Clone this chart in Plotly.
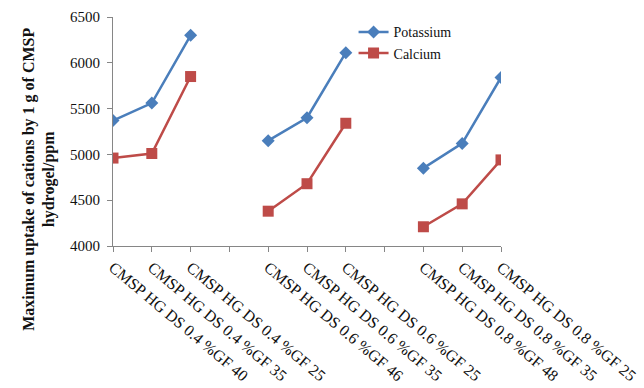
import plotly.graph_objects as go

# Hydrogel samples along the category axis; empty strings separate the DS groups
categories = [
    "CMSP HG DS 0.4 %GF 40", "CMSP HG DS 0.4 %GF 35", "CMSP HG DS 0.4 %GF 25", "",
    "CMSP HG DS 0.6 %GF 46", "CMSP HG DS 0.6 %GF 35", "CMSP HG DS 0.6 %GF 25", "",
    "CMSP HG DS 0.8 %GF 48", "CMSP HG DS 0.8 %GF 35", "CMSP HG DS 0.8 %GF 25",
]
potassium = [5370, 5560, 6300, None, 5150, 5400, 6110, None, 4850, 5120, 5840]
calcium = [4960, 5010, 5850, None, 4380, 4680, 5340, None, 4210, 4460, 4940]
y_ticks = [4000, 4500, 5000, 5500, 6000, 6500]

positions = list(range(len(categories)))
SERIF = "Liberation Serif"
AXIS_GRAY = "#868686"

fig = go.Figure()
fig.add_trace(go.Scatter(
    x=positions, y=potassium, name="Potassium", mode="lines+markers",
    line=dict(color="#4A7EBB", width=2.5),
    marker=dict(symbol="diamond", size=10, color="#4A7EBB"),
    connectgaps=False,
))
fig.add_trace(go.Scatter(
    x=positions, y=calcium, name="Calcium", mode="lines+markers",
    line=dict(color="#BE4B48", width=2.5),
    marker=dict(symbol="square", size=11, color="#BE4B48"),
    connectgaps=False,
))

fig.update_layout(
    width=644, height=388,
    margin=dict(l=113, r=143, t=17, b=142),
    plot_bgcolor="white", paper_bgcolor="white",
    font=dict(family=SERIF, color="#111111", size=13),
    legend=dict(
        x=0.62, y=1.003, xanchor="left", yanchor="top",
        bgcolor="rgba(0,0,0,0)", font=dict(family=SERIF, size=14, color="#111111"),
        tracegroupgap=0, itemwidth=30,
    ),
)
fig.update_xaxes(
    range=[0, len(categories) - 1], tickmode="array",
    tickvals=positions, ticktext=categories, tickangle=40,
    showline=True, linecolor=AXIS_GRAY, linewidth=1,
    ticks="outside", ticklen=5, tickcolor=AXIS_GRAY,
    showgrid=False, zeroline=False, automargin=False,
    tickfont=dict(family=SERIF, size=16, color="#111111"),
)
fig.update_yaxes(
    range=[4000, 6500], tickmode="array", tickvals=y_ticks,
    showline=True, linecolor=AXIS_GRAY, linewidth=1,
    ticks="outside", ticklen=5, tickcolor=AXIS_GRAY,
    showgrid=False, zeroline=False, ticklabelstandoff=4, automargin=False,
    tickfont=dict(family=SERIF, size=15, color="#111111"),
)

fig.add_annotation(
    text="<b>Maximum uptake of cations by 1 g of CMSP</b><br><b>hydrogel/ppm</b>",
    xref="paper", yref="paper", x=-0.19, y=0.29,
    xanchor="center", yanchor="middle", textangle=-90, showarrow=False,
    font=dict(family=SERIF, size=16, color="#111111"),
)

fig.write_html("out.html")
